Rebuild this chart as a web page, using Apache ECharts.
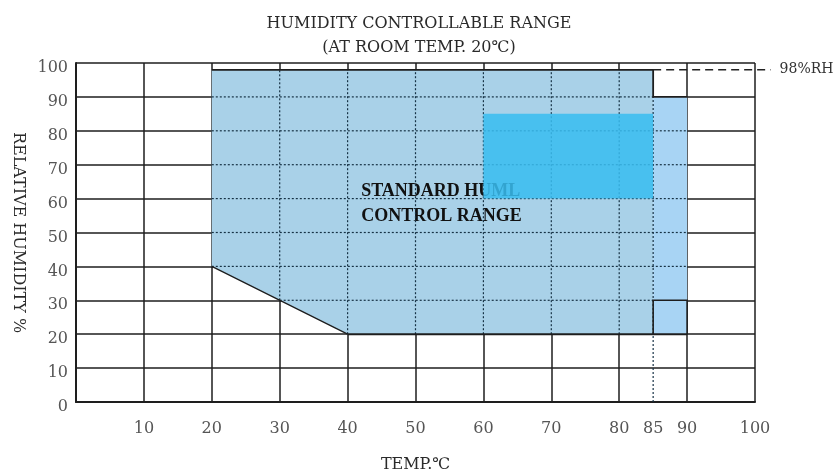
<!DOCTYPE html>
<html>
<head>
<meta charset="utf-8">
<script src="https://cdn.jsdelivr.net/npm/echarts@6/dist/echarts.min.js"></script>
<style>
  html, body { margin: 0; background: #fff; }
  #chart { width: 838px; height: 474px; }
</style>
</head>
<body>
<div id="chart"></div>
<script>
  // axis ticks
  const tempTicks = [10, 20, 30, 40, 50, 60, 70, 80, 85, 90, 100];
  const humTicks = [0, 10, 20, 30, 40, 50, 60, 70, 80, 90, 100];
  // standard range polygon (temp, RH)
  const rangeTemp = [20, 20, 85, 85, 40];
  const rangeHum = [40, 98, 98, 20, 20];
  // extended strip 85..90
  const stripTemp = [85, 90, 90, 85];
  const stripHum = [90, 90, 20, 20];
  // small box at the bottom of the strip
  const boxTemp = [85, 85, 90, 90];
  const boxHum = [20, 30, 30, 20];
  // highlighted block
  const peakTemp = [60, 85];
  const peakHum = [60, 85];
  // 98%RH limit
  const limitHum = 98;
  const limitTemp = [85, 102.3];

  const serif = '"DejaVu Serif", "Liberation Serif", serif';
  const gridColor = '#1e1e1e';
  const dotColor = '#173245';

  // lower RH edge of the range at a given temp (diagonal 20..40)
  function lowerHum(t) {
    const t0 = rangeTemp[0], h0 = rangeHum[0], t1 = rangeTemp[4], h1 = rangeHum[4];
    if (t <= t0) return h0;
    if (t >= t1) return h1;
    return h0 + (h1 - h0) * (t - t0) / (t1 - t0);
  }
  function leftTemp(h) {
    const t0 = rangeTemp[0], h0 = rangeHum[0], t1 = rangeTemp[4], h1 = rangeHum[4];
    if (h >= h0) return t0;
    return t0 + (t1 - t0) * (h0 - h) / (h0 - h1);
  }

  function poly(ts, hs, api) {
    return ts.map((t, i) => api.coord([t, hs[i]]));
  }
  function seg(a, b, api, style) {
    const p = api.coord(a), q = api.coord(b);
    return { type: 'line', shape: { x1: p[0], y1: p[1], x2: q[0], y2: q[1] }, style: style };
  }

  function renderRange(params, api) {
    const children = [];
    const dotted = { stroke: dotColor, lineWidth: 1.2, lineDash: [2, 2] };

    // fills
    children.push({ type: 'polygon', shape: { points: poly(rangeTemp, rangeHum, api) },
      style: { fill: '#a9d1e8' } });
    children.push({ type: 'polygon', shape: { points: poly(stripTemp, stripHum, api) },
      style: { fill: '#a8d4f4' } });

    // label
    const lp = api.coord([42, 58.5]);
    children.push({ type: 'text', x: lp[0], y: lp[1],
      style: { text: 'STANDARD HUML\nCONTROL RANGE', fill: '#111', font: 'bold 18px "Liberation Serif", serif',
        lineHeight: 25, align: 'left', verticalAlign: 'middle' } });

    // dotted grid inside the range
    tempTicks.forEach(t => {
      if (t >= 30 && t <= 80) children.push(seg([t, lowerHum(t)], [t, limitHum], api, dotted));
      if (t === 85) children.push(seg([t, 0], [t, stripHum[0]], api, dotted));
    });
    humTicks.forEach(h => {
      if (h >= 30 && h <= 90) {
        const end = h < stripHum[0] ? stripTemp[1] : stripTemp[0];
        children.push(seg([leftTemp(h), h], [h === 30 ? stripTemp[0] : end, h], api, dotted));
      }
    });

    // highlighted block
    const a = api.coord([peakTemp[0], peakHum[1]]), b = api.coord([peakTemp[1], peakHum[0]]);
    children.push({ type: 'rect', shape: { x: a[0], y: a[1], width: b[0] - a[0], height: b[1] - a[1] },
      style: { fill: '#38bdf0', opacity: 0.86 } });

    // outlines
    children.push({ type: 'polyline', shape: { points: poly([20, 85, 85, 90], [98, 98, 90, 90], api) },
      style: { stroke: gridColor, lineWidth: 1.8, fill: null } });
    children.push(seg([rangeTemp[0], rangeHum[0]], [rangeTemp[4], rangeHum[4]], api,
      { stroke: gridColor, lineWidth: 1.3 }));
    children.push({ type: 'polyline', shape: { points: poly(boxTemp, boxHum, api) },
      style: { stroke: gridColor, lineWidth: 1.6, fill: null } });
    children.push(seg([40, 20], [90, 20], api, { stroke: gridColor, lineWidth: 2 }));

    // 98%RH limit
    children.push(seg([limitTemp[0], limitHum], [limitTemp[1], limitHum], api,
      { stroke: '#222', lineWidth: 1.4, lineDash: [8, 5] }));
    const tp = api.coord([limitTemp[1], limitHum]);
    children.push({ type: 'text', x: tp[0] + 9, y: tp[1],
      style: { text: '98%RH', fill: '#333', font: '14px ' + serif, verticalAlign: 'middle' } });

    return { type: 'group', children: children };
  }

  const chart = echarts.init(document.getElementById('chart'));
  chart.setOption({
    animation: false,
    title: {
      text: 'HUMIDITY CONTROLLABLE RANGE\n(AT ROOM TEMP. 20℃)',
      left: 'center',
      top: 7,
      textStyle: { fontFamily: serif, fontSize: 16, fontWeight: 'normal', color: '#2a2a2a', lineHeight: 24 }
    },
    grid: { left: 76, right: 83, top: 63, bottom: 72, containLabel: false, outerBoundsMode: 'none' },
    xAxis: {
      type: 'value', min: 0, max: 100, interval: 10,
      name: 'TEMP.℃', nameLocation: 'middle', nameGap: 55,
      nameTextStyle: { fontFamily: serif, fontSize: 16, color: '#2a2a2a' },
      axisLine: { show: true, lineStyle: { color: gridColor, width: 2 } },
      axisTick: { show: false },
      axisLabel: { customValues: tempTicks, margin: 19, fontFamily: serif, fontSize: 16, color: '#555' },
      splitLine: { show: true, lineStyle: { color: gridColor, width: 1.5 } }
    },
    yAxis: {
      type: 'value', min: 0, max: 100, interval: 10,
      name: 'RELATIVE HUMIDITY %', nameLocation: 'middle', nameGap: 44, nameRotate: -90,
      nameTextStyle: { fontFamily: serif, fontSize: 16, color: '#2a2a2a' },
      axisLine: { show: true, lineStyle: { color: gridColor, width: 2 } },
      axisTick: { show: false },
      axisLabel: { margin: 8, fontFamily: serif, fontSize: 16, color: '#555',
        verticalAlign: 'top', lineHeight: 10 },
      splitLine: { show: true, lineStyle: { color: gridColor, width: 1.5 } }
    },
    series: [{
      type: 'custom',
      data: [[0, 0]],
      clip: false,
      z: 3,
      renderItem: renderRange
    }]
  });
</script>
</body>
</html>
